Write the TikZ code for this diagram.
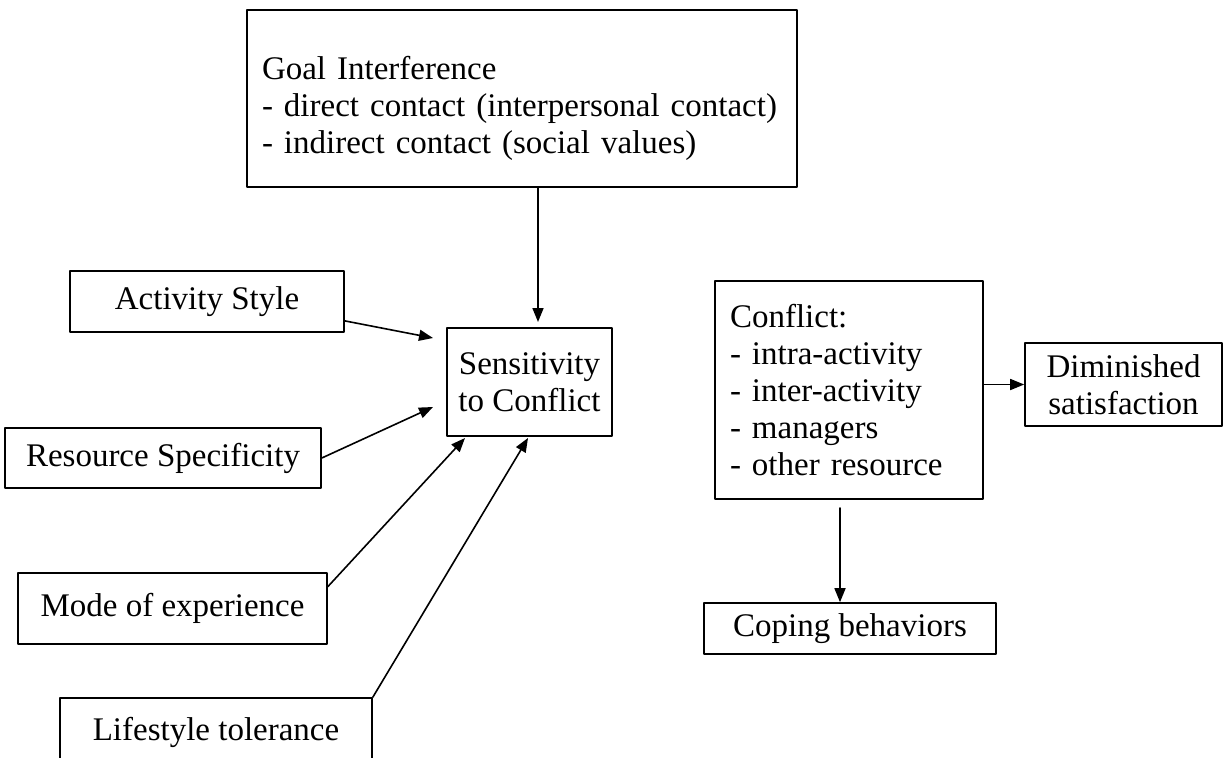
\documentclass[tikz,border=0pt]{standalone}
\usepackage{fontspec}
\setmainfont{Liberation Serif}
\usepackage{tikz}
\usetikzlibrary{arrows.meta,calc}

\tikzset{box/.style={draw, line width=0.8pt, inner sep=0pt, align=center, font=\fontsize{16.5}{18.5}\selectfont}}

\begin{document}
\begin{tikzpicture}[line cap=round,line join=round,>={Triangle[length=7pt,width=5.5pt]},x=0.5pt,y=-0.5pt]
\useasboundingbox (0,0) rectangle (1225,757);
\clip (0,0) rectangle (1225,757);

\node [box, minimum width=275pt, minimum height=88.5pt, text width=260pt, align=left] (goal) at (522,98.5) {\rule{0pt}{22pt}Goal Interference\\- direct contact (interpersonal contact)\\- indirect contact (social values)};
\node [box, minimum width=82.5pt, minimum height=54pt] (sens) at (529.5,382) {Sensitivity\\to Conflict};
\node [box, minimum width=137pt, minimum height=30.5pt] (act) at (207,301.5) {Activity Style};
\node [box, minimum width=158pt, minimum height=30pt] (res) at (163,458) {Resource Specificity};
\node [box, minimum width=154.5pt, minimum height=35.5pt] (mode) at (172.5,608.5) {Mode of experience};
\node [box, minimum width=156pt, minimum height=34pt] (life) at (216,732) {Lifestyle tolerance};
\node [box, minimum width=134pt, minimum height=109pt, text width=119pt, align=left] (conf) at (849,390) {Conflict:\\- intra-activity\\- inter-activity\\- managers\\- other resource};
\node [box, minimum width=98.5pt, minimum height=41.5pt] (dim) at (1123.5,384.5) {Diminished\\satisfaction};
\node [box, minimum width=146pt, minimum height=25.5pt] (cope) at (850,628.5) {Coping behaviors};

%tips
\coordinate (tipG) at (538,322);
\coordinate (tipA) at (433,338);
\coordinate (tipR) at (433,407);
\coordinate (tipM) at (465,438);
\coordinate (tipL) at (528,438);
\coordinate (cfs) at (840,508);

\draw [->, line width=0.8pt] (goal.south -| tipG) -- (tipG);
\draw [->, line width=0.8pt] (act.-8) -- (tipA);
\draw [->, line width=0.8pt] (res.east) -- (tipR);
\draw [->, line width=0.8pt] (mode.8) -- (tipM);
\draw [->, line width=0.8pt] (life.north east) -- (tipL);
\draw [->, line width=0.8pt] (conf.east |- dim.west) -- (dim.west);
\draw [->, line width=0.8pt] (cfs) -- (cfs |- cope.north);
\end{tikzpicture}
\end{document}
